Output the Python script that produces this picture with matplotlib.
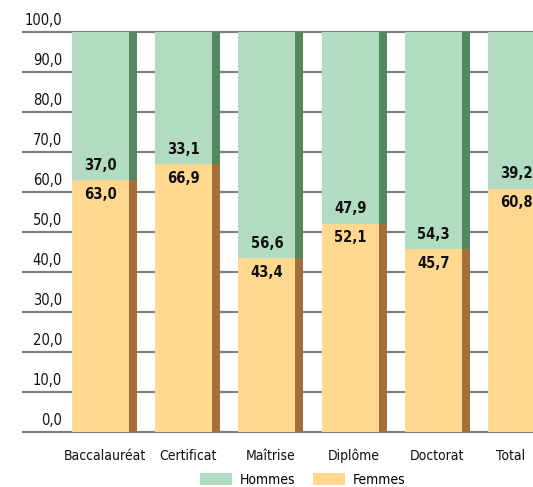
import matplotlib.pyplot as plt
from matplotlib.patches import Patch
import matplotlib.transforms as mtransforms

plt.rcParams['font.family'] = ['DejaVu Sans']
plt.rcParams['font.stretch'] = 'condensed'

categories = ['Baccalauréat', 'Certificat', 'Maîtrise', 'Diplôme', 'Doctorat', 'Total']
femmes = [63.0, 66.9, 43.4, 52.1, 45.7, 60.8]
hommes = [37.0, 33.1, 56.6, 47.9, 54.3, 39.2]
yticks = [0, 10, 20, 30, 40, 50, 60, 70, 80, 90, 100]

green_light = '#b2dcc2'
green_dark = '#54895f'
orange_light = '#fed88f'
orange_dark = '#a56f3c'

fig = plt.figure(figsize=(5.33, 4.87), dpi=100)
ax = fig.add_axes([23 / 533, 1 - 432 / 487, 510 / 533, 400 / 487])

full_w = 0.78
light_w = 0.685
dark_w = full_w - light_w

for i, (f, h) in enumerate(zip(femmes, hommes)):
    left = i - full_w / 2
    # femmes (bottom)
    ax.bar(left, f, width=light_w, align='edge', color=orange_light, zorder=3)
    ax.bar(left + light_w, f, width=dark_w, align='edge', color=orange_dark, zorder=3)
    # hommes (top)
    ax.bar(left, h, bottom=f, width=light_w, align='edge', color=green_light, zorder=3)
    ax.bar(left + light_w, h, bottom=f, width=dark_w, align='edge', color=green_dark, zorder=3)
    cx = left + light_w / 2
    ax.annotate(f"{h:.1f}".replace('.', ','), (cx, f), xytext=(0, 15),
                textcoords='offset pixels', ha='center', va='center',
                fontsize=10.5, fontweight='bold', color='#111111', zorder=5)
    ax.annotate(f"{f:.1f}".replace('.', ','), (cx, f), xytext=(0, -14),
                textcoords='offset pixels', ha='center', va='center',
                fontsize=10.5, fontweight='bold', color='#111111', zorder=5)

# gridlines
for y in yticks:
    ax.axhline(y, color='#808080', linewidth=1.6, zorder=1, clip_on=False)

# y tick labels sit above the gridlines
trans = mtransforms.blended_transform_factory(fig.transFigure, ax.transData)
for y in yticks:
    ax.annotate(f"{y:.1f}".replace('.', ','), (62 / 533, y), xycoords=trans,
                xytext=(0, 4), textcoords='offset pixels',
                ha='right', va='bottom', fontsize=10.5, color='#111111')

ax.set_xlim(-0.98, 5.15)
ax.set_ylim(0, 100)
ax.set_xticks(range(len(categories)))
ax.set_xticklabels(categories, fontsize=10, color='#111111')
ax.tick_params(axis='x', length=0, pad=12)
ax.set_yticks([])
for s in ax.spines.values():
    s.set_visible(False)

# last label sits against the right edge
last = ax.get_xticklabels()[-1]
last.set_transform(last.get_transform() +
                   mtransforms.ScaledTranslation(-0.1, 0, fig.dpi_scale_trans))

handles = [Patch(facecolor=green_light, label='Hommes'),
           Patch(facecolor=orange_light, label='Femmes')]
fig.legend(handles=handles, loc='center', bbox_to_anchor=(303 / 533, 1 - 480 / 487),
           ncol=2, frameon=False, fontsize=10, handlelength=2.25, handleheight=0.9,
           columnspacing=1.3, handletextpad=0.6)

fig.savefig('out.png', dpi=100)
